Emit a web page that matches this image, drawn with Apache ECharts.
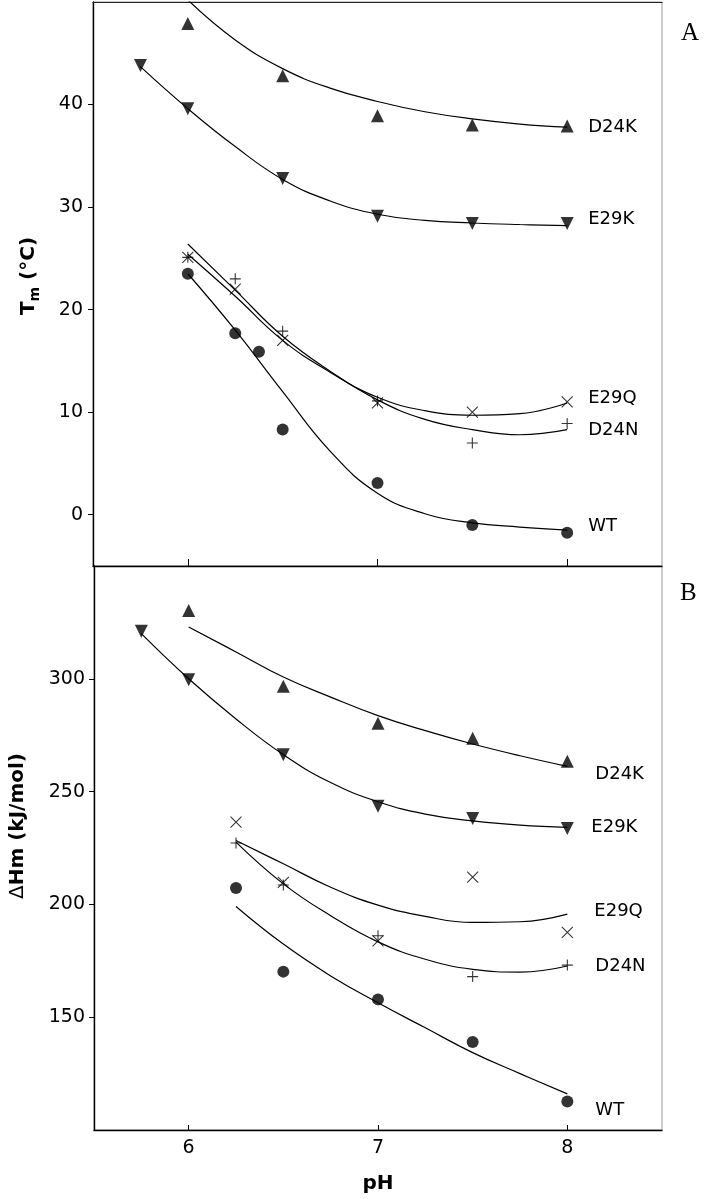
<!DOCTYPE html>
<html>
<head>
<meta charset="utf-8">
<script src="https://cdn.jsdelivr.net/npm/echarts@6/dist/echarts.min.js"></script>
<style>
  html, body { margin: 0; padding: 0; background: #fff; }
  #chart { width: 706px; height: 1199px; }
</style>
</head>
<body>
<div id="chart"></div>
<script>
// ---------- DATA ----------
// x ticks (pH)
const phTicks = [6, 7, 8];
const tmTicks = [0, 10, 20, 30, 40];
const dhTicks = [150, 200, 250, 300];

// Panel A: Tm (°C), measured points [pH, Tm]
const tmD24K = [[6.0, 47.9], [6.5, 42.8], [7.0, 38.9], [7.5, 38.0], [8.0, 37.9]];
const tmE29K = [[5.75, 43.8], [6.0, 39.6], [6.5, 32.8], [7.0, 29.1], [7.5, 28.4], [8.0, 28.4]];
const tmE29Q = [[6.0, 25.1], [6.25, 22.0], [6.5, 17.0], [7.0, 10.9], [7.5, 10.0], [8.0, 11.0]];
const tmD24N = [[6.0, 25.1], [6.25, 23.0], [6.5, 17.9], [7.0, 11.1], [7.5, 7.0], [8.0, 8.9]];
const tmWT   = [[6.0, 23.5], [6.25, 17.7], [6.375, 15.9], [6.5, 8.3], [7.0, 3.1], [7.5, -1.0], [8.0, -1.75]];

// Panel B: ΔHm (kJ/mol), measured points [pH, ΔHm]
const dhD24K = [[6.0, 330.3], [6.5, 296.7], [7.0, 280.3], [7.5, 273.6], [8.0, 263.5]];
const dhE29K = [[5.75, 321.1], [6.0, 299.6], [6.5, 266.3], [7.0, 243.5], [7.5, 238.1], [8.0, 233.6]];
const dhE29Q = [[6.25, 236.5], [6.5, 209.8], [7.0, 183.8], [7.5, 212.1], [8.0, 187.6]];
const dhD24N = [[6.25, 227.2], [6.5, 208.6], [7.0, 186.1], [7.5, 168.0], [8.0, 173.1]];
const dhWT   = [[6.25, 207.3], [6.5, 170.2], [7.0, 157.9], [7.5, 139.0], [8.0, 112.6]];

// Fitted curves at these pH values (null = not drawn)
const fitPH = [5.75, 6.0, 6.25, 6.5, 6.75, 7.0, 7.25, 7.5, 7.75, 8.0];
const fitTmD24K = [null, 50.2, 46.3, 43.5, 41.6, 40.3, 39.3, 38.6, 38.1, 37.8];
const fitTmE29K = [43.7, 39.6, 35.9, 32.7, 30.6, 29.3, 28.7, 28.45, 28.3, 28.2];
const fitTmE29Q = [null, 25.4, 21.3, 17.0, 13.9, 11.45, 10.15, 9.7, 9.85, 10.9];
const fitTmD24N = [null, 26.4, 21.9, 17.4, 14.0, 11.2, 9.3, 8.3, 7.8, 8.3];
const fitTmWT   = [null, 23.5, 18.0, 12.0, 6.2, 2.1, 0.1, -0.8, -1.2, -1.5];

const fitDhD24K = [null, 323.0, 311.9, 300.8, 291.9, 283.7, 277.0, 271.1, 265.9, 261.2];
const fitDhE29K = [320.0, 300.0, 282.2, 266.4, 254.0, 245.5, 240.0, 237.0, 235.1, 234.1];
const fitDhE29Q = [null, null, 228.3, 218.0, 207.6, 199.7, 194.7, 192.0, 192.3, 195.7];
const fitDhD24N = [null, null, 227.6, 209.1, 195.0, 183.4, 175.7, 171.2, 170.0, 172.7];
const fitDhWT   = [null, null, 199.1, 182.4, 168.3, 156.4, 145.3, 134.3, 125.0, 116.0];

// ---------- CHART ----------
const FONT = 'DejaVu Sans';
const BLACK = '#000';
const SYM = {
  up: 'triangle',
  down: 'triangle',
  circle: 'circle',
  cross: 'path://M0,0L10,10M10,0L0,10',
  plus: 'path://M5,0L5,10M0,5L10,5'
};

function zipFit(ys) {
  const out = [];
  fitPH.forEach((x, i) => { if (ys[i] !== null) out.push([x, ys[i]]); });
  return out;
}

function pts(data, sym, idx) {
  const open = (sym === 'cross' || sym === 'plus');
  return {
    type: 'scatter',
    xAxisIndex: idx, yAxisIndex: idx,
    data: data,
    symbol: SYM[sym],
    symbolRotate: sym === 'down' ? 180 : 0,
    symbolSize: sym === 'circle' ? 12 : (open ? 11 : 13),
    itemStyle: open
      ? { color: 'transparent', borderColor: BLACK, borderWidth: 1.1 }
      : { color: BLACK },
    z: 3
  };
}

function fit(ys, idx, name, dx, dy) {
  return {
    type: 'line',
    xAxisIndex: idx, yAxisIndex: idx,
    data: zipFit(ys),
    smooth: 0.45,
    showSymbol: false,
    symbol: 'none',
    lineStyle: { color: BLACK, width: 1.2 },
    clip: true,
    endLabel: {
      show: true,
      formatter: name,
      distance: 0,
      offset: [dx, dy],
      color: BLACK,
      fontFamily: FONT,
      fontSize: 18
    },
    z: 2
  };
}

const axisLineStyle = { show: true, onZero: false, lineStyle: { color: BLACK, width: 1.4 } };

const option = {
  animation: false,
  backgroundColor: '#fff',
  grid: [
    { left: 93, right: 44, top: 2, height: 564, show: true, borderColor: '#999', borderWidth: 1 },
    { left: 93, right: 44, top: 566, height: 564, show: true, borderColor: '#999', borderWidth: 1 }
  ],
  xAxis: [
    {
      type: 'value', gridIndex: 0, min: 5.5, max: 8.5, position: 'bottom',
      axisLine: axisLineStyle,
      axisTick: { show: true, inside: true, length: 7, customValues: phTicks, lineStyle: { color: BLACK, width: 1 } },
      axisLabel: { show: false },
      splitLine: { show: false }
    },
    {
      type: 'value', gridIndex: 1, min: 5.5, max: 8.5, position: 'bottom',
      axisLine: axisLineStyle,
      axisTick: { show: true, inside: true, length: 5, customValues: phTicks, lineStyle: { color: BLACK, width: 1 } },
      axisLabel: { show: true, customValues: phTicks, margin: 9, color: BLACK, fontFamily: FONT, fontSize: 19 },
      splitLine: { show: false },
      name: 'pH', nameLocation: 'middle', nameGap: 44,
      nameTextStyle: { color: BLACK, fontFamily: FONT, fontSize: 20, fontWeight: 'bold' }
    },
    {
      type: 'value', gridIndex: 0, min: 5.5, max: 8.5, position: 'top',
      axisLine: { show: true, onZero: false, lineStyle: { color: '#222', width: 1.2 } },
      axisTick: { show: false }, axisLabel: { show: false }, splitLine: { show: false }
    }
  ],
  yAxis: [
    {
      type: 'value', gridIndex: 0, min: -5, max: 50,
      axisLine: axisLineStyle,
      axisTick: { show: true, length: 5, customValues: tmTicks, lineStyle: { color: BLACK, width: 1 } },
      axisLabel: { show: true, customValues: tmTicks, margin: 10, color: BLACK, fontFamily: FONT, fontSize: 19 },
      splitLine: { show: false },
      name: '{t|T}{s|m}{t| (°C)}',
      nameLocation: 'middle', nameGap: 51,
      nameTextStyle: {
        color: BLACK,
        padding: [0, 0, 0, 16],
        rich: {
          t: { fontFamily: FONT, fontSize: 20, fontWeight: 'bold', lineHeight: 26, verticalAlign: 'middle', color: BLACK },
          s: { fontFamily: FONT, fontSize: 14, fontWeight: 'bold', lineHeight: 14, verticalAlign: 'bottom', color: BLACK }
        }
      }
    },
    {
      type: 'value', gridIndex: 1, min: 100, max: 350,
      axisLine: axisLineStyle,
      axisTick: { show: true, length: 5, customValues: dhTicks, lineStyle: { color: BLACK, width: 1 } },
      axisLabel: { show: true, customValues: dhTicks, margin: 9, color: BLACK, fontFamily: FONT, fontSize: 19 },
      splitLine: { show: false },
      name: '{d|Δ}{t|Hm (kJ/mol)}',
      nameLocation: 'middle', nameGap: 66,
      nameTextStyle: {
        color: BLACK,
        padding: [0, 0, 0, 44],
        rich: {
          d: { fontFamily: FONT, fontSize: 20, color: BLACK },
          t: { fontFamily: FONT, fontSize: 20, fontWeight: 'bold', color: BLACK }
        }
      }
    }
  ],
  graphic: [
    { type: 'text', x: 681, y: 33, style: { text: 'A', font: '25px "Liberation Serif"', fill: BLACK, verticalAlign: 'middle' } },
    { type: 'text', x: 680, y: 593, style: { text: 'B', font: '25px "Liberation Serif"', fill: BLACK, verticalAlign: 'middle' } }
  ],
  series: [
    // Panel A fits
    fit(fitTmD24K, 0, 'D24K', 21, 0),
    fit(fitTmE29K, 0, 'E29K', 21, -6),
    fit(fitTmE29Q, 0, 'E29Q', 21, -5),
    fit(fitTmD24N, 0, 'D24N', 21, 1),
    fit(fitTmWT, 0, 'WT', 21, -4),
    // Panel A points
    pts(tmD24K, 'up', 0),
    pts(tmE29K, 'down', 0),
    pts(tmE29Q, 'cross', 0),
    pts(tmD24N, 'plus', 0),
    pts(tmWT, 'circle', 0),
    // Panel B fits
    fit(fitDhD24K, 1, 'D24K', 28, 8),
    fit(fitDhE29K, 1, 'E29K', 24, 0),
    fit(fitDhE29Q, 1, 'E29Q', 27, -3),
    fit(fitDhD24N, 1, 'D24N', 28, 0),
    fit(fitDhWT, 1, 'WT', 28, 16),
    // Panel B points
    pts(dhD24K, 'up', 1),
    pts(dhE29K, 'down', 1),
    pts(dhE29Q, 'cross', 1),
    pts(dhD24N, 'plus', 1),
    pts(dhWT, 'circle', 1)
  ]
};

const chart = echarts.init(document.getElementById('chart'), null, { renderer: 'canvas' });
chart.setOption(option);
</script>
</body>
</html>
